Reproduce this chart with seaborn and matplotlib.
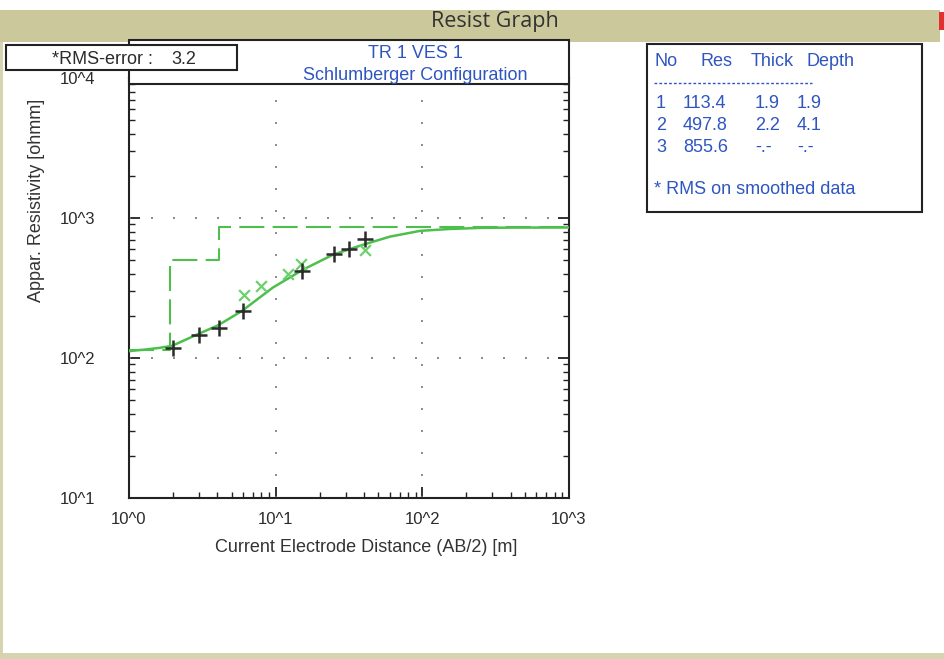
import matplotlib
matplotlib.use("Agg")
import matplotlib.pyplot as plt
from matplotlib.patches import Rectangle
from matplotlib.lines import Line2D
from matplotlib.ticker import FixedLocator, FixedFormatter, LogLocator, NullFormatter
import numpy as np
import pandas as pd
import seaborn as sns

# ---------------- data ----------------
x_limits = [1.0, 1000.0]
y_limits = [10.0, 10000.0]
x_major = [1, 10, 100, 1000]
x_tick_labels = ["10^0", "10^1", "10^2", "10^3"]
y_major = [10, 100, 1000, 10000]
y_tick_labels = ["10^1", "10^2", "10^3", "10^4"]

# measured apparent resistivity (black +)
ab2_measured = [2.0, 3.0, 4.1, 6.0, 15.2, 24.8, 31.7, 40.6]
rho_measured = [117, 146, 163, 216, 416, 553, 600, 710]

# smoothed data (green x)
ab2_smoothed = [6.1, 8.0, 12.2, 15.0, 40.6]
rho_smoothed = [280, 326, 399, 470, 586]

# calculated model curve (green solid)
ab2_curve = [1.0, 1.3, 1.6, 1.96, 2.95, 4.04, 5.86, 9.59, 15.4, 24.6, 39.4,
             60.1, 96.3, 154, 250, 400, 1000]
rho_curve = [112, 115, 118, 122, 148, 171, 216, 319, 428, 547, 644,
             736, 809, 835, 850, 854, 855.6]

# layered model
layer_no = [1, 2, 3]
layer_res = [113.4, 497.8, 855.6]
layer_thick = ["1.9", "2.2", "-.-"]
layer_depth_lbl = ["1.9", "4.1", "-.-"]
layer_depth = [1.9, 4.1]

rms_error = "3.2"
title_lines = ["TR 1 VES 1", "Schlumberger Configuration"]
window_title = "Resist Graph"
x_label = "Current Electrode Distance (AB/2) [m]"
y_label = "Appar. Resistivity [ohmm]"

# ---------------- style ----------------
sns.set_style("ticks")
plt.rcParams["font.family"] = ["Liberation Sans", "DejaVu Sans"]

W, H = 944, 659
fig = plt.figure(figsize=(W / 100, H / 100), dpi=100, facecolor="white")

def fx(px):
    return px / W

def fy(py):
    return 1 - py / H

BLUE = "#2f55c0"
GREEN = "#4cbf4c"
GREEN_X = "#6cd06c"
DARK = "#2b2b2b"
FS = 13

# window title bar and border
fig.add_artist(Rectangle((fx(0), fy(42)), fx(940), fy(10) - fy(42),
                         transform=fig.transFigure, facecolor="#cbc99c",
                         edgecolor="none", zorder=0))
fig.add_artist(Rectangle((fx(939), fy(30)), fx(5), fy(12) - fy(30),
                         transform=fig.transFigure, facecolor="#e03030",
                         edgecolor="none", zorder=0))
fig.add_artist(Rectangle((fx(0), fy(659)), fx(944), fy(653) - fy(659),
                         transform=fig.transFigure, facecolor="#d6d4b0",
                         edgecolor="none", zorder=0))
fig.add_artist(Rectangle((fx(0), fy(659)), fx(3), fy(42) - fy(659),
                         transform=fig.transFigure, facecolor="#d6d4b0",
                         edgecolor="none", zorder=0))
fig.text(fx(495), fy(21), window_title, ha="center", va="center",
         fontsize=15.5, color="#333333", family=["Open Sans", "DejaVu Sans"])

# ---------------- axes ----------------
ax = fig.add_axes([fx(129), fy(498), fx(569) - fx(129), fy(78) - fy(498)])
ax.set_xscale("log")
ax.set_yscale("log")

# model step (dashed) built from the layer table
step_x = [x_limits[0]]
step_y = [layer_res[0]]
for i, d in enumerate(layer_depth):
    step_x += [d, d]
    step_y += [layer_res[i], layer_res[i + 1]]
step_x.append(x_limits[1])
step_y.append(layer_res[-1])
df_step = pd.DataFrame({"x": step_x, "y": step_y})
sns.lineplot(data=df_step, x="x", y="y", sort=False, estimator=None, ax=ax,
             color=GREEN, linewidth=1.5, zorder=3)
ax.lines[-1].set_dashes((12, 4))

df_curve = pd.DataFrame({"x": ab2_curve, "y": rho_curve})
sns.lineplot(data=df_curve, x="x", y="y", sort=False, estimator=None, ax=ax,
             color=GREEN, linewidth=1.8, zorder=4)

df_meas = pd.DataFrame({"x": ab2_measured, "y": rho_measured})
sns.scatterplot(data=df_meas, x="x", y="y", marker="+", s=130, color=DARK,
                linewidth=1.8, ax=ax, zorder=6)
df_sm = pd.DataFrame({"x": ab2_smoothed, "y": rho_smoothed})
sns.scatterplot(data=df_sm, x="x", y="y", marker="x", s=60, color=GREEN_X,
                linewidth=1.6, ax=ax, zorder=5)

ax.set_xlim(*x_limits)
ax.set_ylim(*y_limits)

ax.xaxis.set_major_locator(FixedLocator(x_major))
ax.xaxis.set_major_formatter(FixedFormatter(x_tick_labels))
ax.yaxis.set_major_locator(FixedLocator(y_major))
ax.yaxis.set_major_formatter(FixedFormatter(y_tick_labels))
ax.xaxis.set_minor_locator(LogLocator(base=10, subs=np.arange(2, 10)))
ax.yaxis.set_minor_locator(LogLocator(base=10, subs=np.arange(2, 10)))
ax.xaxis.set_minor_formatter(NullFormatter())
ax.yaxis.set_minor_formatter(NullFormatter())

ax.tick_params(which="both", direction="in", left=True, right=True,
               bottom=True, top=False, color="#222222")
ax.tick_params(which="major", length=8, width=1.3)
ax.tick_params(which="minor", length=4, width=1.0)
ax.tick_params(axis="x", which="major", pad=10, labelsize=12,
               labelcolor=DARK)
ax.tick_params(axis="y", which="major", pad=37, labelsize=12,
               labelcolor=DARK)
for t in ax.get_yticklabels():
    t.set_horizontalalignment("center")

for s in ax.spines.values():
    s.set_linewidth(1.5)
    s.set_color("#222222")

# dotted grid at interior decades
for xv in x_major[1:-1]:
    ax.axvline(xv, color="#777777", linewidth=1.2, linestyle=(0, (1.2, 12)),
               zorder=1)
for yv in y_major[1:-1]:
    ax.axhline(yv, color="#777777", linewidth=1.2, linestyle=(0, (1.2, 12)),
               zorder=1)

ax.set_xlabel(x_label, fontsize=FS, color="#333333")
ax.set_ylabel(y_label, fontsize=FS, color="#333333")
ax.xaxis.set_label_coords((366 - 129) / 440, (498 - 548) / 420)
ax.xaxis.label.set_va("center")
ax.yaxis.set_label_coords((37 - 129) / 440, (498 - 200) / 420)
ax.yaxis.label.set_va("center")
ax.set_facecolor("white")

# ---------------- title box ----------------
fig.add_artist(Rectangle((fx(129), fy(84)), fx(569) - fx(129), fy(40) - fy(84),
                         transform=fig.transFigure, facecolor="white",
                         edgecolor="#222222", linewidth=1.5, zorder=10))
fig.text(fx(415), fy(53), title_lines[0], ha="center", va="center",
         fontsize=FS, color=BLUE, zorder=11)
fig.text(fx(415), fy(75), title_lines[1], ha="center", va="center",
         fontsize=FS, color=BLUE, zorder=11)

# RMS box
fig.add_artist(Rectangle((fx(6), fy(70)), fx(237) - fx(6), fy(45) - fy(70),
                         transform=fig.transFigure, facecolor="white",
                         edgecolor="#222222", linewidth=1.5, zorder=12))
fig.text(fx(52), fy(59), "*RMS-error :", ha="left", va="center",
         fontsize=13, color=DARK, zorder=13)
fig.text(fx(171), fy(59), rms_error, ha="left", va="center",
         fontsize=13, color=DARK, zorder=13)

# ---------------- layer table ----------------
fig.add_artist(Rectangle((fx(647), fy(212)), fx(922) - fx(647), fy(44) - fy(212),
                         transform=fig.transFigure, facecolor="white",
                         edgecolor="#222222", linewidth=1.5, zorder=10))
tfs = FS
fig.text(fx(654), fy(62), "No", ha="left", va="center", fontsize=tfs, color=BLUE, zorder=11)
fig.text(fx(701), fy(62), "Res", ha="left", va="center", fontsize=tfs, color=BLUE, zorder=11)
fig.text(fx(751), fy(62), "Thick", ha="left", va="center", fontsize=tfs, color=BLUE, zorder=11)
fig.text(fx(807), fy(62), "Depth", ha="left", va="center", fontsize=tfs, color=BLUE, zorder=11)
fig.add_artist(Line2D([fx(654), fx(812)], [fy(83), fy(83)], transform=fig.transFigure,
                      color=BLUE, linewidth=1.0, linestyle=(0, (2, 1.5)), zorder=11))
row_y = [104, 125, 147]
for i in range(len(layer_no)):
    yy = fy(row_y[i])
    fig.text(fx(656), yy, str(layer_no[i]), ha="left", va="center", fontsize=tfs, color=BLUE, zorder=11)
    fig.text(fx(683), yy, f"{layer_res[i]:.1f}", ha="left", va="center", fontsize=tfs, color=BLUE, zorder=11)
    fig.text(fx(755), yy, layer_thick[i], ha="left", va="center", fontsize=tfs, color=BLUE, zorder=11)
    fig.text(fx(797), yy, layer_depth_lbl[i], ha="left", va="center", fontsize=tfs, color=BLUE, zorder=11)
fig.text(fx(654), fy(190), "* RMS on smoothed data", ha="left", va="center",
         fontsize=tfs, color=BLUE, zorder=11)

fig.savefig("out.png", dpi=100, facecolor="white")
